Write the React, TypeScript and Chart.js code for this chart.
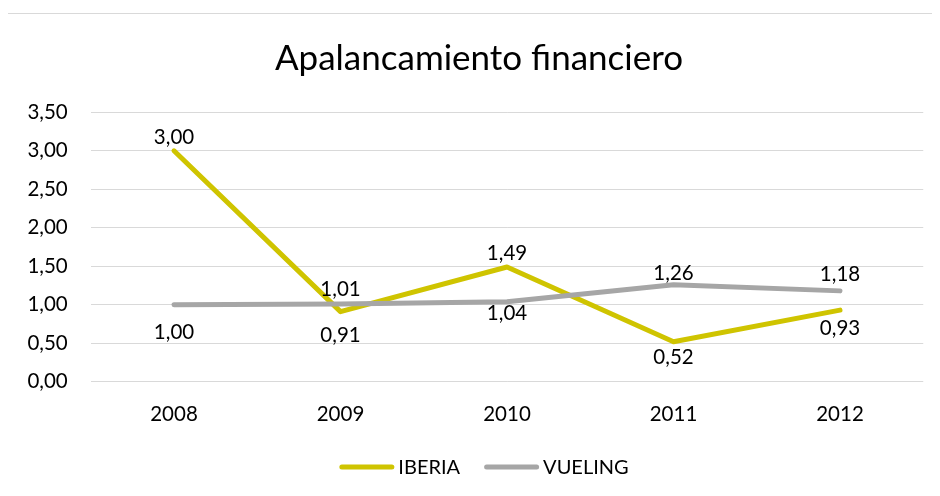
import { useEffect, useRef } from 'react';
import { Chart, registerables } from 'chart.js';

Chart.register(...registerables);

// ---- data ----
const categories: string[] = ['2008', '2009', '2010', '2011', '2012'];
const iberia: number[] = [3.0, 0.91, 1.49, 0.52, 0.93];
const vueling: number[] = [1.0, 1.01, 1.04, 1.26, 1.18];
const seriesNames: string[] = ['IBERIA', 'VUELING'];
const titleText = 'Apalancamiento financiero';
const yMin = 0;
const yMax = 3.5;
const yStep = 0.5;

// ---- layout / style (label offsets relative to each point, in px) ----
const labelDy: number[][] = [
  [-14, 23, -14, 15, 18],
  [27, -15, 11, -12, -17],
];
const COLORS = ['#CFC400', '#A6A6A6'];
const FONT = 'Lato, "Open Sans", sans-serif';
const GRID = '#D9D9D9';

const fmt = (v: number) => v.toFixed(2).replace('.', ',');

const decorPlugin = {
  id: 'decor',
  afterDatasetsDraw(chart: any) {
    const ctx = chart.ctx as CanvasRenderingContext2D;
    ctx.save();
    ctx.fillStyle = '#000';
    ctx.font = `20.5px ${FONT}`;
    ctx.textAlign = 'center';
    ctx.textBaseline = 'alphabetic';
    chart.data.datasets.forEach((ds: any, i: number) => {
      const meta = chart.getDatasetMeta(i);
      meta.data.forEach((pt: any, j: number) => {
        const dy = labelDy[i]?.[j] ?? -14;
        ctx.fillText(fmt(ds.data[j]), pt.x, pt.y + dy + 7.3);
      });
    });
    ctx.restore();
  },
  afterDraw(chart: any) {
    const ctx = chart.ctx as CanvasRenderingContext2D;
    ctx.save();
    // title
    ctx.fillStyle = '#000';
    ctx.font = `35px ${FONT}`;
    ctx.textAlign = 'center';
    ctx.textBaseline = 'alphabetic';
    ctx.fillText(titleText, 471, 56);
    // legend
    ctx.font = `20px ${FONT}`;
    ctx.textAlign = 'left';
    const sample = 55;
    const gapSample = 4;
    const gapItem = 24;
    const items = chart.data.datasets.map((ds: any) => ({
      label: ds.label as string,
      color: ds.borderColor as string,
      w: ctx.measureText(ds.label).width,
    }));
    const total =
      items.reduce((s: number, it: any) => s + sample + gapSample + it.w, 0) +
      gapItem * (items.length - 1);
    let x = 476 - total / 2;
    const y = 453;
    items.forEach((it: any) => {
      ctx.strokeStyle = it.color;
      ctx.lineWidth = 5;
      ctx.lineCap = 'round';
      ctx.beginPath();
      ctx.moveTo(x + 2.5, y);
      ctx.lineTo(x + sample - 2.5, y);
      ctx.stroke();
      ctx.fillText(it.label, x + sample + gapSample, y + 7.2);
      x += sample + gapSample + it.w + gapItem;
    });
    ctx.restore();
  },
};

export default function App() {
  const ref = useRef<HTMLCanvasElement | null>(null);
  useEffect(() => {
    if (!ref.current) return;
    const chart = new Chart(ref.current, {
      type: 'line',
      data: {
        labels: categories,
        datasets: [
          {
            label: seriesNames[0],
            data: iberia,
            borderColor: COLORS[0],
            backgroundColor: COLORS[0],
            borderWidth: 5,
            borderCapStyle: 'round',
            borderJoinStyle: 'round',
            pointRadius: 0,
            tension: 0,
            order: 1,
          },
          {
            label: seriesNames[1],
            data: vueling,
            borderColor: COLORS[1],
            backgroundColor: COLORS[1],
            borderWidth: 5,
            borderCapStyle: 'round',
            borderJoinStyle: 'round',
            pointRadius: 0,
            tension: 0,
            order: 0,
          },
        ],
      },
      options: {
        responsive: false,
        animation: false,
        devicePixelRatio: 1,
        layout: { padding: { left: 0, right: 16.75, top: 98.3, bottom: 64.3 } },
        plugins: {
          legend: { display: false },
          title: { display: false },
          tooltip: { enabled: false },
        },
        scales: {
          x: {
            type: 'category',
            offset: true,
            grid: { display: false },
            border: { display: false },
            ticks: {
              font: { family: FONT, size: 20.5 },
              color: '#000',
              padding: 12,
              maxRotation: 0,
              autoSkip: false,
            },
            afterFit: (s: any) => {
              s.height = 50;
            },
          },
          y: {
            min: yMin,
            max: yMax,
            grid: { color: GRID, lineWidth: 1, drawTicks: false },
            border: { display: false },
            ticks: {
              stepSize: yStep,
              font: { family: FONT, size: 20.5 },
              color: '#000',
              padding: 23,
              callback: (v: any) => fmt(Number(v)),
            },
            afterFit: (s: any) => {
              s.width = 82.75;
            },
          },
        },
      },
      plugins: [decorPlugin],
    });
    return () => chart.destroy();
  }, []);
  return (
    <div
      style={{
        position: 'relative',
        left: -1,
        top: 5,
        width: 932,
        height: 482,
        borderLeft: `1px solid ${GRID}`,
        borderTop: `1px solid ${GRID}`,
        overflow: 'hidden',
      }}
    >
      <canvas ref={ref} width={932} height={482} style={{ display: 'block' }} />
    </div>
  );
}
